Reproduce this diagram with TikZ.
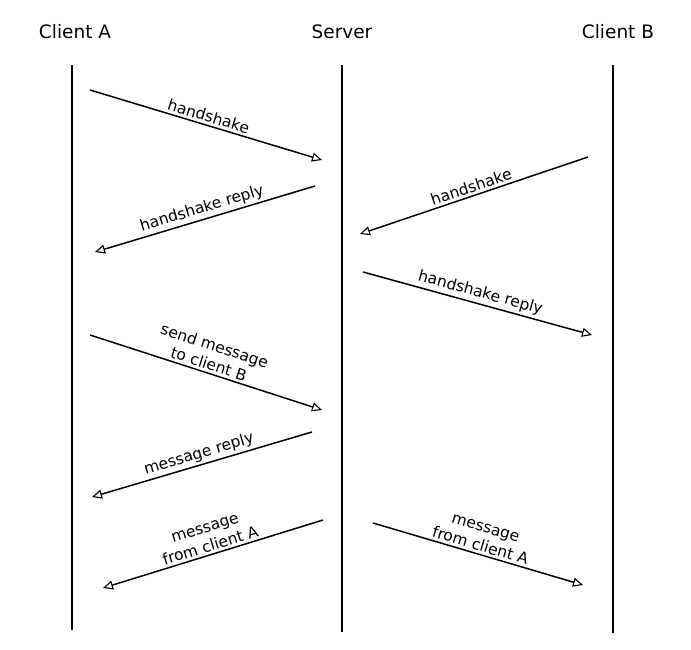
\documentclass[tikz,border=0pt]{standalone}
\usepackage{fontspec}
\setmainfont{DejaVu Sans}
\usetikzlibrary{arrows.meta}
\begin{document}
\begin{tikzpicture}[x=1pt,y=-1pt,
 life/.style={line width=1.3pt},
 msg/.style={line width=1.5pt,-{Triangle[open,length=10pt,width=9pt,line width=1.1pt]}},
 head/.style={font=\fontsize{18.5}{22}\selectfont},
 lab/.style={font=\fontsize{15.5}{19}\selectfont,sloped,above,align=center,inner sep=2.5pt}]
\useasboundingbox[fill=white] (0,0) rectangle (691,649);
% headers
\node[head] (hA) at (75,32) {Client A};
\node[head] (hS) at (342,32) {Server};
\node[head] (hB) at (618,32) {Client B};
% lifelines
\coordinate (a0) at (72,65);  \coordinate (a1) at (72,630);
\coordinate (s0) at (342,65); \coordinate (s1) at (342,632);
\coordinate (b0) at (613,65); \coordinate (b1) at (613,633);
\draw[life] (a0) -- (a1);
\draw[life] (s0) -- (s1);
\draw[life] (b0) -- (b1);
% message end points
\coordinate (m1s) at (90,90);   \coordinate (m1e) at (322,160);
\coordinate (m2s) at (315,186); \coordinate (m2e) at (95,252);
\coordinate (m3s) at (588,157); \coordinate (m3e) at (360,234);
\coordinate (m4s) at (363,272); \coordinate (m4e) at (592,335);
\coordinate (m5s) at (90,335);  \coordinate (m5e) at (322,410);
\coordinate (m6s) at (312,432); \coordinate (m6e) at (92,497);
\coordinate (m7s) at (323,520); \coordinate (m7e) at (103,588);
\coordinate (m8s) at (373,523); \coordinate (m8e) at (583,585);
% messages
\draw[msg] (m1s) -- node[lab] (l1) {handshake} (m1e);
\draw[msg] (m2s) -- node[lab] (l2) {handshake reply} (m2e);
\draw[msg] (m3s) -- node[lab] (l3) {handshake} (m3e);
\draw[msg] (m4s) -- node[lab] (l4) {handshake reply} (m4e);
\draw[msg] (m5s) -- node[lab] (l5) {send message\\to client B} (m5e);
\draw[msg] (m6s) -- node[lab] (l6) {message reply} (m6e);
\draw[msg] (m7s) -- node[lab] (l7) {message\\from client A} (m7e);
\draw[msg] (m8s) -- node[lab] (l8) {message\\from client A} (m8e);
\end{tikzpicture}
\end{document}
